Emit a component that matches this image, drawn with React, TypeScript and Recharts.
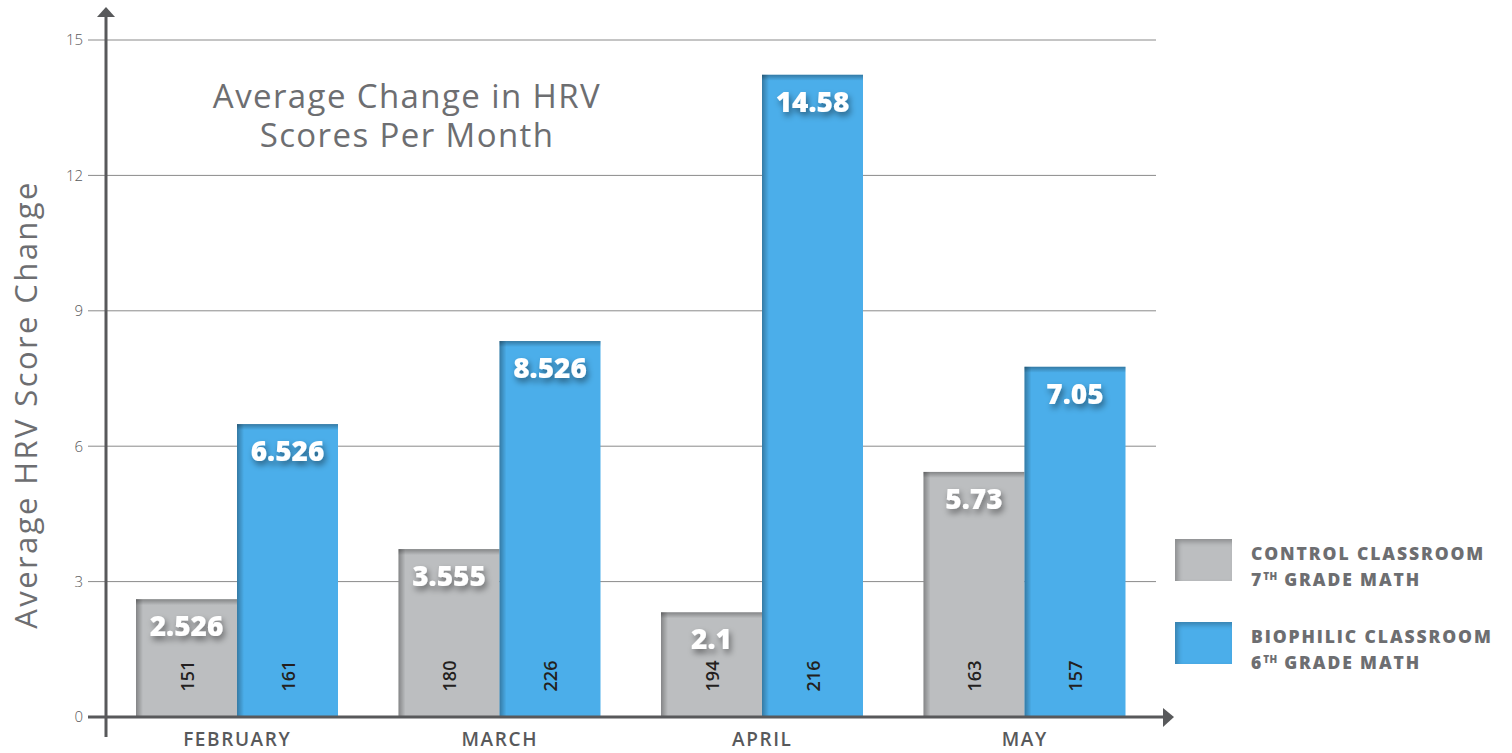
import { BarChart, Bar, XAxis, YAxis, CartesianGrid, LabelList } from "recharts";

const months = ["FEBRUARY", "MARCH", "APRIL", "MAY"];
// bar heights as drawn in the picture
const controlHeights = [2.61, 3.72, 2.32, 5.43];
const biophilicHeights = [6.49, 8.33, 14.23, 7.76];
// printed values
const controlLabels = ["2.526", "3.555", "2.1", "5.73"];
const biophilicLabels = ["6.526", "8.526", "14.58", "7.05"];
const controlCounts = [151, 180, 194, 163];
const biophilicCounts = [161, 226, 216, 157];
const yTicks = [0, 3, 6, 9, 12, 15];

const GRAY = "#bcbec0";
const BLUE = "#4baeea";
const TEXT = "#6d6e71";
const FONT = "'Open Sans', sans-serif";

const data = months.map((m, i) => ({
  month: m,
  control: controlHeights[i],
  biophilic: biophilicHeights[i],
  controlLabel: controlLabels[i],
  biophilicLabel: biophilicLabels[i],
  controlCount: controlCounts[i],
  biophilicCount: biophilicCounts[i],
}));

const ShadedBar = (props: any) => {
  const { x, y, width, height, fill } = props;
  if (!height || height <= 0) return null;
  return (
    <g>
      <rect x={x} y={y} width={width} height={height} fill={fill} />
      <rect x={x} y={y} width={7} height={height} fill="url(#leftShade)" />
      <rect x={x} y={y} width={width} height={6} fill="url(#topShade)" />
    </g>
  );
};

const ValueLabel = (props: any) => {
  const { x, y, width, value } = props;
  return (
    <text
      x={x + width / 2}
      y={y + 26}
      textAnchor="middle"
      dominantBaseline="central"
      fill="#fff"
      fontFamily={FONT}
      fontWeight={800}
      fontSize={28}
      filter="url(#txtShadow)"
    >
      {value}
    </text>
  );
};

const CountLabel = (props: any) => {
  const { x, y, width, height, value } = props;
  const cx = x + width / 2;
  const cy = y + height - 41;
  return (
    <text
      x={cx}
      y={cy}
      transform={`rotate(-90, ${cx}, ${cy})`}
      textAnchor="middle"
      dominantBaseline="central"
      fill="#231f20"
      fontFamily={FONT}
      fontWeight={600}
      fontSize={18}
    >
      {value}
    </text>
  );
};

const legendItems = [
  { color: GRAY, line1: "CONTROL CLASSROOM", grade: "7", line2: " GRADE MATH" },
  { color: BLUE, line1: "BIOPHILIC CLASSROOM", grade: "6", line2: " GRADE MATH" },
];

const LegendBox = () => (
  <div style={{ position: "absolute", left: 1175, top: 539 }}>
    {legendItems.map((it, i) => (
      <div key={i} style={{ display: "flex", alignItems: "flex-start", height: 83 }}>
        <div
          style={{
            width: 57,
            height: 42,
            background: it.color,
            boxShadow: "inset 3px 3px 5px rgba(0,0,0,0.25)",
          }}
        />
        <div
          style={{
            marginLeft: 19,
            marginTop: 3,
            fontFamily: FONT,
            fontWeight: 800,
            fontSize: 17.5,
            lineHeight: "23px",
            color: TEXT,
            letterSpacing: 1.9,
            whiteSpace: "nowrap",
          }}
        >
          <div>{it.line1}</div>
          <div>
            {it.grade}
            <sup style={{ fontSize: 10, verticalAlign: 6, letterSpacing: 0.5 }}>TH</sup>
            {it.line2}
          </div>
        </div>
      </div>
    ))}
  </div>
);

export default function App() {
  return (
    <div style={{ position: "absolute", left: 0, top: 0, width: 1512, height: 753, background: "#fff" }}>
      <BarChart
        width={1512}
        height={753}
        data={data}
        margin={{ top: 40, right: 356, bottom: 0, left: 0 }}
        barCategoryGap={30}
        barGap={0}
      >
        <defs>
          <linearGradient id="leftShade" x1="0" y1="0" x2="1" y2="0">
            <stop offset="0%" stopColor="#000" stopOpacity={0.3} />
            <stop offset="100%" stopColor="#000" stopOpacity={0} />
          </linearGradient>
          <linearGradient id="topShade" x1="0" y1="0" x2="0" y2="1">
            <stop offset="0%" stopColor="#000" stopOpacity={0.3} />
            <stop offset="100%" stopColor="#000" stopOpacity={0} />
          </linearGradient>
          <filter id="txtShadow" x="-30%" y="-50%" width="160%" height="220%">
            <feDropShadow dx={2} dy={4} stdDeviation={3} floodColor="#000" floodOpacity={0.45} />
          </filter>
        </defs>
        <CartesianGrid vertical={false} stroke="#8a8a8a" strokeWidth={1} />
        <XAxis
          dataKey="month"
          height={36}
          axisLine={false}
          tickLine={false}
          tickMargin={10}
          tick={{ fill: "#58595b", fontFamily: FONT, fontWeight: 600, fontSize: 19, letterSpacing: 1.6 }}
        />
        <YAxis
          width={106}
          domain={[0, 15]}
          ticks={yTicks}
          axisLine={false}
          tickSize={18}
          tickMargin={5}
          tickLine={{ stroke: "#8a8a8a" }}
          tick={{ fill: "#58595b", fontFamily: FONT, fontWeight: 300, fontSize: 15 }}
          label={({ viewBox }: any) => {
            const cy = viewBox.y + viewBox.height / 2 + 26;
            return (
              <text
                x={25}
                y={cy}
                transform={`rotate(-90, 25, ${cy})`}
                textAnchor="middle"
                dominantBaseline="central"
                fill={TEXT}
                fontFamily={FONT}
                fontSize={31}
                letterSpacing={2.4}
              >
                Average HRV Score Change
              </text>
            );
          }}
        />
        <Bar dataKey="control" name="Control Classroom" fill={GRAY} shape={ShadedBar} isAnimationActive={false}>
          <LabelList dataKey="controlLabel" content={ValueLabel} />
          <LabelList dataKey="controlCount" content={CountLabel} />
        </Bar>
        <Bar dataKey="biophilic" name="Biophilic Classroom" fill={BLUE} shape={ShadedBar} isAnimationActive={false}>
          <LabelList dataKey="biophilicLabel" content={ValueLabel} />
          <LabelList dataKey="biophilicCount" content={CountLabel} />
        </Bar>
      </BarChart>
      <svg
        width={1512}
        height={753}
        style={{ position: "absolute", left: 0, top: 0, pointerEvents: "none" }}
      >
        <line x1={106} y1={16} x2={106} y2={737} stroke="#58595b" strokeWidth={3} />
        <polygon points="106,7 97,17 115,17" fill="#58595b" />
        <line x1={88} y1={717} x2={1165} y2={717} stroke="#58595b" strokeWidth={3} />
        <polygon points="1174,717 1163,708 1163,727" fill="#58595b" />
      </svg>
      <LegendBox />
      <div
        style={{
          position: "absolute",
          left: 140,
          top: 76,
          width: 534,
          textAlign: "center",
          fontFamily: FONT,
          fontSize: 33,
          lineHeight: "39px",
          letterSpacing: 1.4,
          color: TEXT,
        }}
      >
        Average Change in HRV
        <br />
        Scores Per Month
      </div>
    </div>
  );
}
